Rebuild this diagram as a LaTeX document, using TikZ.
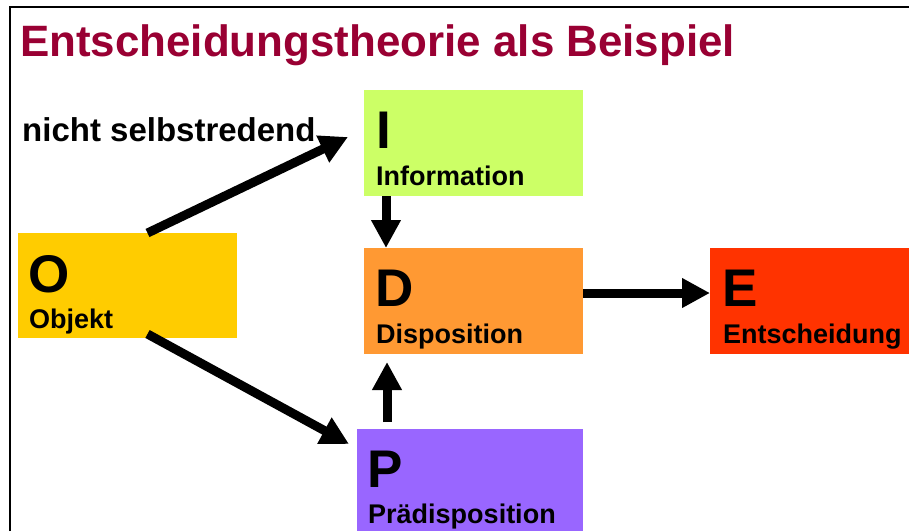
\documentclass[tikz,border=0pt]{standalone}
\usepackage{fontspec}
\setmainfont{Liberation Sans}
\usetikzlibrary{arrows.meta}
\definecolor{titlered}{HTML}{990033}
\definecolor{ocol}{HTML}{FFCC00}
\definecolor{icol}{HTML}{CCFF66}
\definecolor{dcol}{HTML}{FF9933}
\definecolor{pcol}{HTML}{9966FF}
\definecolor{ecol}{HTML}{FF3300}
\begin{document}
\begin{tikzpicture}[x=1pt,y=-1pt,
  box/.style={draw=none, inner sep=0pt, outer sep=0pt, anchor=north west},
  bigletter/.style={inner sep=0pt, anchor=base west, font=\fontsize{53}{60}\selectfont\bfseries},
  boxlabel/.style={inner sep=0pt, anchor=base west, font=\fontsize{27}{32}\selectfont\bfseries},
  arr/.style={line width=9pt, -{Triangle[length=28pt,width=28pt]}}]
\useasboundingbox (0,0) rectangle (909,531);
% frame
\draw[line width=2.5pt] (10,531) -- (10,7) -- (909,7);
% title
\node[inner sep=0pt, anchor=base west, text=titlered, font=\fontsize{43.9}{48}\selectfont\bfseries] (title) at (20,56) {Entscheidungstheorie als Beispiel};
% boxes
\node[box, fill=ocol, minimum width=219pt, minimum height=105pt] (O) at (18,233) {};
\node[box, fill=icol, minimum width=219pt, minimum height=106pt] (I) at (364,90) {};
\node[box, fill=dcol, minimum width=219pt, minimum height=106pt] (D) at (364,248) {};
\node[box, fill=pcol, minimum width=226pt, minimum height=102pt] (P) at (357,429) {};
\node[box, fill=ecol, minimum width=199pt, minimum height=106pt] (E) at (710,248) {};
% letters and labels
\node[bigletter] (Oletter) at ([shift={(10pt,-59pt)}]O.north west) {O};
\node[boxlabel] (Olabel) at ([shift={(11pt,-95pt)}]O.north west) {Objekt};
\node[bigletter] (Iletter) at ([shift={(12pt,-58pt)}]I.north west) {I};
\node[boxlabel] (Ilabel) at ([shift={(12pt,-95pt)}]I.north west) {Information};
\node[bigletter] (Dletter) at ([shift={(11pt,-58pt)}]D.north west) {D};
\node[boxlabel] (Dlabel) at ([shift={(12pt,-95pt)}]D.north west) {Disposition};
\node[bigletter] (Pletter) at ([shift={(10pt,-58pt)}]P.north west) {P};
\node[boxlabel] (Plabel) at ([shift={(11pt,-94pt)}]P.north west) {Prädisposition};
\node[bigletter] (Eletter) at ([shift={(12pt,-58pt)}]E.north west) {E};
\node[boxlabel] (Elabel) at ([shift={(13pt,-95pt)}]E.north west) {Entscheidung};
% side label
\node[inner sep=0pt, anchor=base west, font=\fontsize{33}{38}\selectfont\bfseries] (ns) at (22,141) {nicht selbstredend};
% arrows
\draw[arr] ([xshift=20pt]O.north) -- ([shift={(-16pt,6pt)}]I.west);
\draw[arr] ([shift={(20pt,4pt)}]O.south) -- ([shift={(-8pt,-15pt)}]P.north west);
\draw[arr] ([xshift=22pt]I.south west) -- ([xshift=22pt]D.north west);
\draw[arr] ([shift={(30pt,7pt)}]P.north west) -- ([shift={(23pt,-8pt)}]D.south west);
\draw[arr] ([yshift=8pt]D.east) -- ([yshift=8pt]E.west);
\end{tikzpicture}
\end{document}
